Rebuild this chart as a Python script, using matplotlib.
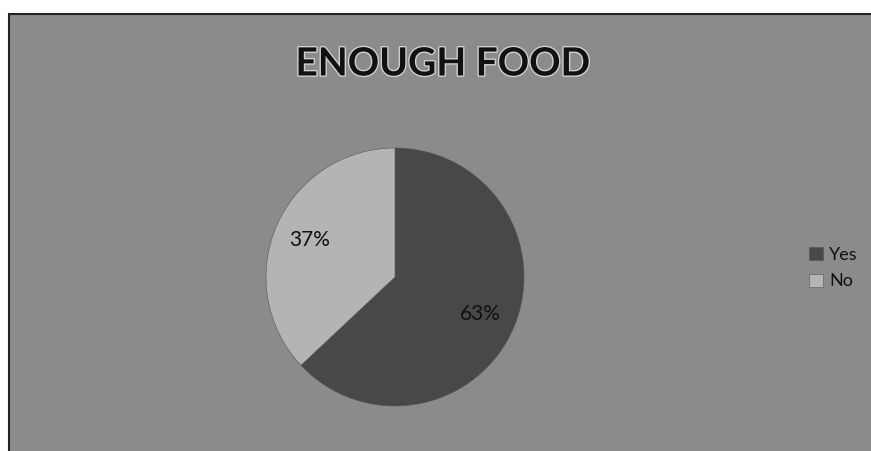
import matplotlib.pyplot as plt
import matplotlib.patheffects as pe
from matplotlib.patches import Rectangle

labels = ['Yes', 'No']
shares = [63, 37]
colors = ['#484848', '#b4b4b4']

W, H = 871, 451
fig = plt.figure(figsize=(W / 100, H / 100), dpi=100)
fig.patch.set_facecolor('white')

# grey chart area, dark frame only shows on left and top
bg = Rectangle((9 / W, -0.05), 1.0, 1 - 14 / H + 0.05, transform=fig.transFigure,
               facecolor='#8b8b8b', edgecolor='#222222', lw=1.5, zorder=-5)
fig.patches.append(bg)

fig.text(443 / W, 1 - 64 / H, 'ENOUGH FOOD', ha='center', va='center',
         fontsize=28, fontweight='bold', family='Lato', color='#111111',
         path_effects=[pe.withStroke(linewidth=2, foreground='#d0d0d0')])

ax = fig.add_axes([266 / W, 45 / H, 258 / W, 258 / H])
ax.patch.set_visible(False)
wedges, texts, autotexts = ax.pie(shares, colors=colors, startangle=90, counterclock=False,
                                  autopct='%d%%', pctdistance=0.72,
                                  wedgeprops=dict(edgecolor='#555555', linewidth=0.4),
                                  textprops=dict(fontsize=15, family='Lato', color='#111111'))
ax.set_aspect('equal')
ax.set_xlim(-1, 1)
ax.set_ylim(-1, 1)

leg = fig.legend(wedges, labels, loc='center left', bbox_to_anchor=(793 / W, 1 - 268 / H),
                 frameon=False, prop=dict(family='Lato', size=13), handlelength=0.75,
                 handleheight=0.75, handletextpad=0.35, labelspacing=0.6)
for t in leg.get_texts():
    t.set_color('#111111')

fig.savefig('out.png', dpi=100, facecolor=fig.get_facecolor())
